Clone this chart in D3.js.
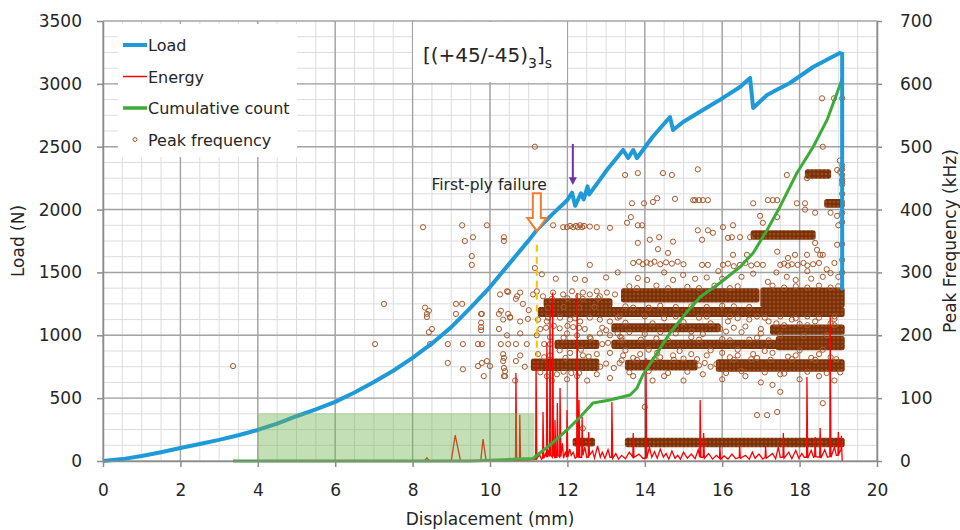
<!DOCTYPE html>
<html>
<head>
<meta charset="utf-8">
<script src="https://cdn.jsdelivr.net/npm/d3@7"></script>
<style>
body { margin: 0; background: #fff; }
text { font-family: "DejaVu Sans", sans-serif; fill: #262626; }
</style>
</head>
<body>
<script>
//tick labels
var xTicks = [0, 2, 4, 6, 8, 10, 12, 14, 16, 18, 20];
var loadTicks = [0, 500, 1000, 1500, 2000, 2500, 3000, 3500];
var freqTicks = [0, 100, 200, 300, 400, 500, 600, 700];

//load curve [displacement mm, load N]
var loadData = [[0,0],[0.5,15],[1,40],[1.5,70],[2,103],[2.5,135],[3,168],[3.5,205],[4,247],[4.5,298],
	[5,356],[5.5,410],[6,470],[6.5,545],[7,628],[7.5,718],[8,820],[8.5,935],[9,1065],[9.5,1220],
	[10,1384],[10.5,1570],[11,1755],[11.21,1838],[11.6,1960],[12,2076],[12.12,2135],[12.2,2030],
	[12.35,2130],[12.42,2080],[12.52,2185],[12.56,2120],[12.8,2220],[13.02,2315],[13.44,2474],
	[13.57,2410],[13.7,2474],[13.8,2410],[14.2,2577],[14.65,2736],[14.73,2633],[14.99,2697],
	[15.5,2792],[16.02,2888],[16.46,2975],[16.72,3047],[16.8,2808],[17.16,2912],[17.4,2951],
	[17.75,3007],[18.35,3134],[18.79,3206],[19.04,3245],[19.1,3240],[19.1,1360]];

//acoustic energy hits, drawn in load units [mm, value]
var energyData = [[8.3,0],[8.37,25],[8.43,0],[9.0,0],[9.1,205],[9.24,0],[9.76,0],[9.82,175],[9.9,0],
	[10.3,4],[10.6,8],[10.66,3],[10.67,700],[10.69,6],[10.76,4],[10.77,366],[10.79,6],[11.0,9],[11.15,12],
	[11.18,15],[11.19,790],[11.21,18],[11.28,50],[11.33,15],[11.36,22],[11.37,390],[11.39,22],[11.44,60],
	[11.46,30],[11.47,940],[11.49,30],[11.53,90],[11.54,35],[11.55,1225],[11.57,45],[11.61,30],[11.62,1340],
	[11.64,45],[11.67,30],[11.68,326],[11.7,30],[11.73,30],[11.74,462],[11.76,45],[11.8,30],[11.81,580],
	[11.83,35],[11.87,140],[11.9,22],[11.95,75],[11.98,30],[11.99,405],[12.01,30],[12.06,95],[12.1,45],
	[12.15,70],[12.2,22],[12.24,30],[12.25,1336],[12.27,35],[12.29,30],[12.3,485],[12.32,30],[12.37,30],
	[12.38,350],[12.4,45],[12.45,110],[12.5,30],[12.54,30],[12.55,230],[12.57,45],[12.65,80],[12.7,22],
	[12.78,120],[12.85,30],[12.9,70],[12.97,22],[13.05,90],[13.1,30],[13.14,30],[13.15,470],[13.17,22],
	[13.25,60],[13.32,15],[13.4,45],[13.5,18],[13.6,70],[13.69,30],[13.7,223],[13.72,30],[13.85,55],
	[13.95,22],[14.02,22],[14.03,820],[14.05,22],[14.12,110],[14.18,30],[14.25,75],[14.32,22],[14.4,95],
	[14.48,30],[14.55,60],[14.62,15],[14.7,80],[14.78,22],[14.85,45],[14.92,15],[15.0,70],[15.1,22],
	[15.2,55],[15.3,18],[15.38,90],[15.42,30],[15.43,485],[15.45,30],[15.51,30],[15.52,223],[15.54,22],
	[15.65,60],[15.75,15],[15.85,45],[15.93,22],[15.94,111],[15.96,15],[16.05,40],[16.15,15],[16.25,55],
	[16.35,18],[16.44,30],[16.45,127],[16.47,22],[16.6,45],[16.7,15],[16.78,70],[16.85,22],[16.95,55],
	[17.05,15],[17.11,30],[17.12,119],[17.14,22],[17.3,60],[17.38,18],[17.45,110],[17.5,30],[17.57,30],
	[17.58,223],[17.6,22],[17.72,70],[17.8,18],[17.9,85],[17.98,22],[18.06,60],[18.12,30],[18.18,30],
	[18.19,668],[18.21,22],[18.3,85],[18.36,30],[18.39,35],[18.4,190],[18.42,35],[18.52,30],[18.53,262],
	[18.55,22],[18.65,90],[18.72,30],[18.78,35],[18.79,1146],[18.81,30],[18.9,110],[18.95,45],[18.99,45],
	[19.0,230],[19.02,60],[19.07,90],[19.08,200],[19.1,0]];

//cumulative count, drawn in load units [mm, value]
var countData = [[3.36,0],[9.5,0],[10.0,5],[10.7,15],[11.11,20],[11.55,127],[11.99,247],[12.33,350],
	[12.66,461],[13.1,485],[13.62,525],[13.8,581],[13.95,684],[14.32,859],[14.65,1018],[15.09,1185],
	[15.43,1305],[15.94,1416],[16.46,1543],[16.8,1655],[17.16,1838],[17.49,2021],[17.93,2291],
	[18.35,2498],[18.71,2713],[19.1,3039]];

//dense runs of peak frequency hits [from mm, to mm, low kHz, high kHz]
var peakBands = [[11.12,12.76,147,159],[13.55,15.3,148,157],[15.9,19.1,146,158],
	[11.73,12.76,182,189],[13.2,17.45,182,189],[17.45,19.1,180,195],
	[13.2,15.9,209,215],[17.3,19.1,205,213],
	[11.3,19.1,233,241],
	[11.45,13.1,248,255],[13.45,16.9,256,271],[17.05,19.1,248,272],
	[16.8,18.35,356,363],[18.7,19.1,407,413],[18.2,18.75,453,460],
	[12.2,12.65,27,33],[13.55,19.1,26,33]];

//single peak frequency hits [mm, kHz]
var peakEarly = [[3.36,151],[7.03,186],[7.26,250],[8.27,372],[8.32,244],[8.42,239],[8.37,234],[8.37,229],
	[8.45,186],[8.42,205],[8.5,210],[8.91,186],[8.91,156],[9.12,250],[9.12,234],[9.28,375],[9.28,250],
	[9.3,186],[9.3,146],[9.35,350],[9.56,356],[9.53,326],[9.53,312],[9.69,186],[9.69,151],[9.77,234],
	[9.79,234],[9.77,220],[9.77,213],[9.77,208],[9.79,186],[9.79,156],[9.84,135],[9.92,375],[9.92,159],
	[10.0,151],[10.23,234],[10.23,210],[10.28,239],[10.28,186],[10.34,159],[10.36,164],[10.36,148],
	[10.39,143],[10.36,135],[10.36,356],[10.36,350],[10.47,269],[10.47,234],[10.47,186],[10.52,229],
	[10.67,258],[10.67,186],[10.67,159],[10.26,265],[10.44,270],[10.7,262],[10.78,268],[10.34,225],
	[10.52,228],[10.78,222],[10.98,226],[10.44,200],[10.78,203],[10.34,170],[10.78,168],[10.39,135],
	[10.65,128],[10.9,150],[10.95,186],[11.0,240],[10.85,250]];

var peakMiddle = [[11.16,500],[11.16,307],[11.34,297],[11.63,375],[11.89,372],[11.99,372],[12.07,374],
	[12.15,372],[12.22,374],[12.27,372],[12.33,375],[12.38,372],[12.43,374],[12.58,373],[12.76,372],
	[13.1,371],[12.58,312],[11.11,265],[11.21,270],[11.37,262],[11.63,268],[11.89,265],[12.12,270],
	[12.28,262],[12.4,268],[12.58,265],[12.76,270],[12.84,262],[13.02,268],[13.23,265],[11.24,225],
	[11.47,222],[11.81,228],[12.07,225],[12.33,222],[12.58,228],[12.84,225],[13.1,222],[11.21,200],
	[11.55,197],[11.99,203],[12.25,200],[12.58,197],[12.84,203],[13.1,200],[13.36,198],[11.24,170],
	[11.55,168],[12.07,172],[12.4,168],[12.76,170],[13.1,172],[13.44,168],[13.88,170],[14.32,172],
	[14.73,168],[11.47,135],[11.6,128],[11.73,138],[11.99,130],[12.25,135],[12.51,128],[12.76,138],
	[13.1,132],[13.7,135],[14.2,128],[12.4,52],[12.85,150],[13.0,155],[13.2,148],[13.35,156],
	[12.9,186],[13.05,188],[12.9,212],[13.0,208],[13.3,300],[12.2,290],[11.7,290],[12.45,288],
	[13.0,292],[14.0,86],[12.1,140],[11.4,186],[11.55,186],[11.3,210],[11.45,212],[11.65,215],
	[11.8,211],[12.0,215],[12.15,213],[12.3,212],[12.45,210]];

var peakLate = [[13.49,455],[13.82,458],[14.47,458],[14.7,455],[15.37,464],[13.67,410],[13.98,410],
	[14.21,412],[14.32,418],[14.78,417],[15.3,415],[15.25,415],[15.4,415],[15.5,415],[15.63,415],
	[13.64,388],[13.54,379],[13.82,375],[13.93,375],[13.82,347],[14.13,352],[14.37,356],[14.34,337],
	[14.6,331],[14.73,349],[13.7,315],[13.85,317],[13.95,313],[14.05,316],[14.15,314],[14.25,317],
	[14.4,313],[14.55,316],[14.7,314],[14.85,317],[15.0,313],[15.48,312],[15.63,312],[13.82,291],
	[14.06,288],[14.99,296],[14.73,288],[15.37,367],[15.48,352],[15.63,367],[15.76,363],[16.02,372],
	[16.15,355],[16.25,356],[16.28,375],[16.46,356],[16.72,356],[16.98,390],[17.05,379],[15.3,290],
	[15.6,292],[16.8,410],[17.18,415],[17.31,415],[17.42,415],[17.93,410],[18.14,400],[18.14,410],
	[17.67,455],[18.6,500],[18.58,577],[18.89,577],[19.1,577],[19.1,464],[19.04,478],[19.1,440],
	[19.1,448],[19.1,455],[19.1,470],[18.19,450],[18.97,463],[19.05,460],[19.1,445],[17.42,388],
	[18.4,347],[18.45,336],[18.53,328],[18.97,344],[18.97,390],[19.0,375],[16.02,312],[16.15,314],
	[16.3,310],[16.46,312],[16.6,315],[16.75,311],[16.9,313],[17.05,312],[17.5,312],[17.6,314],
	[17.7,311],[17.8,313],[17.95,312],[18.1,315],[18.2,311],[18.35,313],[18.5,315],[18.7,305],
	[18.9,315],[16.28,328],[16.64,328],[17.42,333],[17.7,323],[17.88,328],[18.19,328],[18.6,328],
	[16.0,290],[16.5,293],[17.18,285],[17.67,293],[17.9,288],[18.3,290],[18.6,293],[19.0,293],
	[19.1,300],[19.1,320],[19.1,345],[19.1,380],[19.1,395],[19.1,425],[18.4,395],[18.8,395],
	[15.4,152],[15.55,156],[15.7,150],[15.85,154],[15.95,210],[16.3,212],[16.6,214],[17.0,210],
	[15.2,170],[15.6,168],[16.0,172],[16.4,168],[16.8,170],[17.3,172],[17.9,168],[18.5,170],
	[14.5,135],[15.0,128],[15.5,138],[16.0,130],[16.6,135],[17.0,125],[17.5,138],[18.0,130],
	[18.5,135],[18.9,128],[16.15,222],[16.7,225],[17.2,222],[17.8,225],[18.4,222],[18.9,226],
	[16.9,73],[17.16,73],[17.42,78],[18.6,92],[17.3,121],[17.5,110]];

//hits lying along the edges of the dense runs [mm, kHz]
var peakFringe = [[11.3,141],[11.9,142],[12.3,140],[13.6,141],[14.1,143],[14.6,140],[15.1,142],[16.1,140],
	[16.5,143],[17.1,141],[17.6,139],[18.2,142],[18.7,140],[19.05,141],
	[11.4,165],[11.95,164],[12.55,166],[13.7,164],[14.4,165],[15.0,163],[16.2,165],[16.9,164],
	[17.7,166],[18.3,164],[18.8,165],
	[11.8,176],[12.35,177],[13.5,176],[14.1,177],[14.9,175],[15.7,176],[16.4,177],[17.1,175],
	[18.0,176],[18.6,177],
	[11.9,196],[12.6,195],[13.4,196],[14.3,195],[15.2,197],[16.0,194],[16.9,196],
	[13.3,203],[14.0,202],[14.8,203],[15.5,202],[17.5,200],[18.1,199],[18.7,200],
	[13.5,220],[14.2,219],[15.0,221],[15.7,219],[17.4,219],[18.0,218],[18.8,219],
	[11.5,228],[12.2,227],[13.3,228],[14.5,227],[15.4,228],[16.4,227],[17.1,228],[17.9,227],[18.5,228],
	[13.5,246],[14.4,247],[15.2,246],[16.0,247],
	[13.6,278],[14.3,279],[15.1,277],[15.8,279],[16.4,278],[17.3,279],[17.9,278],[18.5,279],[19.0,278],
	[14.5,300],[15.9,302],[16.8,298],[17.4,300],[18.2,302],[18.8,299],
	[13.4,160],[13.8,161],[14.25,162],[14.75,161],[15.35,162],[16.3,161],[16.75,162],[17.25,161],
	[17.8,162],[18.4,161],[18.95,162],
	[13.4,192],[13.9,193],[14.6,192],[15.4,193],[16.2,192],[16.7,193],[17.2,192],
	[13.6,205],[14.4,205],[15.2,206],[16.1,206],[16.5,205],[17.0,203],[17.6,216],[18.2,216],[18.9,216],
	[13.35,230],[14.0,230],[14.8,230],[15.6,230],[16.2,230],[16.9,230],[17.5,230],[18.2,230],[18.9,230],
	[13.7,244],[14.1,244],[14.8,245],[15.6,245],[16.3,246],[16.7,245],
	[13.8,275],[14.6,275],[15.4,275],[16.2,275],[17.6,276],[18.2,276],[18.8,276],
	[11.6,258],[12.0,259],[12.4,258],[12.8,259],[11.5,244],[11.9,245],[12.3,244],[12.7,245]];

//shaded zone [from mm, to mm, top N]
var shadedZone = [4, 11.15, 380];

var legendItems = ["Load", "Energy", "Cumulative count", "Peak frequency"];

setChart();

function setChart() {
	var width = 960,
		height = 530;

	var svg = d3.select("body")
		.append("svg")
		.attr("width", width)
		.attr("height", height);

	var x = d3.scaleLinear().domain([0, 20]).range([103, 877]),
		y = d3.scaleLinear().domain([0, 3500]).range([461, 21]),
		yR = d3.scaleLinear().domain([0, 700]).range([461, 21]);

	//pattern for the dense runs of circles
	var pat = svg.append("defs").append("pattern")
		.attr("id", "dense")
		.attr("patternUnits", "userSpaceOnUse")
		.attr("width", 4)
		.attr("height", 4);
	pat.append("rect").attr("width", 4).attr("height", 4).attr("fill", "#7e3208");
	pat.append("circle").attr("cx", 2).attr("cy", 2).attr("r", 0.75).attr("fill", "#b87450");

	//minor grid
	svg.selectAll(".minorV")
		.data(d3.range(0.5, 20, 0.5))
		.enter()
		.append("line")
		.attr("x1", function(d){ return x(d); })
		.attr("x2", function(d){ return x(d); })
		.attr("y1", y(0))
		.attr("y2", y(3500))
		.attr("stroke", "#dcdcdc")
		.attr("stroke-width", 1);
	svg.selectAll(".minorH")
		.data(d3.range(125, 3500, 125))
		.enter()
		.append("line")
		.attr("x1", x(0))
		.attr("x2", x(20))
		.attr("y1", function(d){ return y(d); })
		.attr("y2", function(d){ return y(d); })
		.attr("stroke", "#dcdcdc")
		.attr("stroke-width", 1);

	//major grid
	svg.selectAll(".majorV")
		.data(xTicks)
		.enter()
		.append("line")
		.attr("x1", function(d){ return x(d); })
		.attr("x2", function(d){ return x(d); })
		.attr("y1", y(0))
		.attr("y2", y(3500))
		.attr("stroke", "#a3a3a3")
		.attr("stroke-width", 1.4);
	svg.selectAll(".majorH")
		.data(loadTicks)
		.enter()
		.append("line")
		.attr("x1", x(0))
		.attr("x2", x(20))
		.attr("y1", function(d){ return y(d); })
		.attr("y2", function(d){ return y(d); })
		.attr("stroke", "#a3a3a3")
		.attr("stroke-width", 1.4);

	//legend and title boxes hide the grid
	svg.append("rect")
		.attr("x", 118).attr("y", 24)
		.attr("width", 179).attr("height", 133)
		.attr("fill", "#fff");
	svg.append("rect")
		.attr("x", 413).attr("y", 22)
		.attr("width", 154).attr("height", 60)
		.attr("fill", "#fff");

	//peak frequency: dense runs then single hits
	svg.selectAll(".band")
		.data(peakBands)
		.enter()
		.append("rect")
		.attr("class", "band")
		.attr("x", function(d){ return x(d[0]) - 2.5; })
		.attr("width", function(d){ return x(d[1]) - x(d[0]) + 5; })
		.attr("y", function(d){ return yR(d[3]) - 2.5; })
		.attr("height", function(d){ return yR(d[2]) - yR(d[3]) + 5; })
		.attr("rx", 2.5)
		.attr("fill", "url(#dense)");

	var peakPoints = peakEarly.concat(peakMiddle, peakLate, peakFringe);
	svg.selectAll(".peak")
		.data(peakPoints)
		.enter()
		.append("circle")
		.attr("class", "peak")
		.attr("cx", function(d){ return x(d[0]); })
		.attr("cy", function(d){ return yR(d[1]); })
		.attr("r", 2.6)
		.attr("fill", "none")
		.attr("stroke", "#a8582a")
		.attr("stroke-width", 1);

	var line = d3.line()
		.x(function(d){ return x(d[0]); })
		.y(function(d){ return y(d[1]); });

	svg.append("path")
		.datum(energyData)
		.attr("d", line)
		.attr("fill", "none")
		.attr("stroke", "#ff0000")
		.attr("stroke-width", 1.3);

	svg.append("path")
		.datum(countData)
		.attr("d", line)
		.attr("fill", "none")
		.attr("stroke", "#3cab37")
		.attr("stroke-width", 3)
		.attr("stroke-linejoin", "round");

	svg.append("path")
		.datum(loadData)
		.attr("d", line)
		.attr("fill", "none")
		.attr("stroke", "#1f9ad8")
		.attr("stroke-width", 4)
		.attr("stroke-linejoin", "round");

	//shaded zone sits over the curves
	svg.append("rect")
		.attr("x", x(shadedZone[0]))
		.attr("y", y(shadedZone[2]))
		.attr("width", x(shadedZone[1]) - x(shadedZone[0]))
		.attr("height", y(0) - y(shadedZone[2]))
		.attr("fill", "#6fb24f")
		.attr("fill-opacity", 0.42);

	//axes
	var fmt = d3.format("d");
	var xAxis = svg.append("g")
		.attr("transform", "translate(0," + y(0) + ")")
		.call(d3.axisBottom(x).tickValues(xTicks).tickFormat(fmt).tickSize(6).tickSizeOuter(0).tickPadding(17));
	var yAxis = svg.append("g")
		.attr("transform", "translate(" + x(0) + ",0)")
		.call(d3.axisLeft(y).tickValues(loadTicks).tickFormat(fmt).tickSize(6).tickSizeOuter(0).tickPadding(15));
	var rAxis = svg.append("g")
		.attr("transform", "translate(" + x(20) + ",0)")
		.call(d3.axisRight(yR).tickValues(freqTicks).tickFormat(fmt).tickSize(5).tickSizeOuter(0).tickPadding(18));
	[xAxis, yAxis, rAxis].forEach(function(g){
		g.selectAll("path, line").attr("stroke", "#8c8c8c").attr("stroke-width", 1.5);
		g.selectAll("text").attr("font-size", 17).attr("fill", "#262626")
			.style("font-family", "'DejaVu Sans', sans-serif");
	});

	svg.append("text")
		.attr("x", x(10))
		.attr("y", 525)
		.attr("text-anchor", "middle")
		.attr("font-size", 17)
		.text("Displacement (mm)");
	svg.append("text")
		.attr("transform", "translate(24," + y(1750) + ") rotate(-90)")
		.attr("text-anchor", "middle")
		.attr("font-size", 17)
		.text("Load (N)");
	svg.append("text")
		.attr("transform", "translate(956," + y(1750) + ") rotate(-90)")
		.attr("text-anchor", "middle")
		.attr("font-size", 17)
		.text("Peak Frequency (kHz)");

	//title
	var title = svg.append("text")
		.attr("x", 423)
		.attr("y", 62)
		.attr("font-size", 20);
	title.append("tspan").text("[(+45/-45)");
	title.append("tspan").attr("dy", 6).attr("font-size", 14).text("3");
	title.append("tspan").attr("dy", -6).text("]");
	title.append("tspan").attr("dy", 6).attr("font-size", 14).text("s");

	//legend
	var legendColors = ["#1f9ad8", "#ff0000", "#3cab37", "#a8582a"],
		legendWidths = [4, 1.5, 3.5, 0];
	var legend = svg.selectAll(".legend")
		.data(legendItems)
		.enter()
		.append("g")
		.attr("class", "legend")
		.attr("transform", function(d, i){ return "translate(123," + (45 + i * 31.5) + ")"; });
	legend.append("line")
		.attr("x1", 0).attr("x2", 24)
		.attr("stroke", function(d, i){ return legendColors[i]; })
		.attr("stroke-width", function(d, i){ return legendWidths[i]; });
	legend.filter(function(d, i){ return i == 3; })
		.append("circle")
		.attr("cx", 12).attr("r", 2)
		.attr("fill", "none")
		.attr("stroke", "#a8582a");
	legend.append("text")
		.attr("x", 25)
		.attr("y", 6)
		.attr("font-size", 16)
		.text(function(d){ return d; });

	//first-ply failure annotation
	var ax = x(11.21),
		aTop = y(2130), aNeck = y(1933), aTip = y(1830);
	svg.append("path")
		.attr("d", "M" + (ax - 4) + "," + aTop + "L" + (ax + 4) + "," + aTop + "L" + (ax + 4) + "," + aNeck +
			"L" + (ax + 9.5) + "," + aNeck + "L" + ax + "," + aTip + "L" + (ax - 9.5) + "," + aNeck +
			"L" + (ax - 4) + "," + aNeck + "Z")
		.attr("fill", "#fff")
		.attr("stroke", "#f47b2f")
		.attr("stroke-width", 2);
	svg.append("line")
		.attr("x1", ax).attr("x2", ax)
		.attr("y1", y(1720)).attr("y2", y(830))
		.attr("stroke", "#ffc000")
		.attr("stroke-width", 2)
		.attr("stroke-dasharray", "7,5");
	svg.append("text")
		.attr("x", x(11.47))
		.attr("y", y(2156))
		.attr("text-anchor", "end")
		.attr("font-size", 15.5)
		.text("First-ply failure");

	//purple arrow
	var px = x(12.14);
	svg.append("line")
		.attr("x1", px).attr("x2", px)
		.attr("y1", y(2522)).attr("y2", y(2250))
		.attr("stroke", "#7030a0")
		.attr("stroke-width", 2);
	svg.append("path")
		.attr("d", "M" + (px - 4) + "," + (y(2250) - 1) + "L" + (px + 4) + "," + (y(2250) - 1) + "L" + px + "," + y(2196) + "Z")
		.attr("fill", "#7030a0");
};
</script>
</body>
</html>
